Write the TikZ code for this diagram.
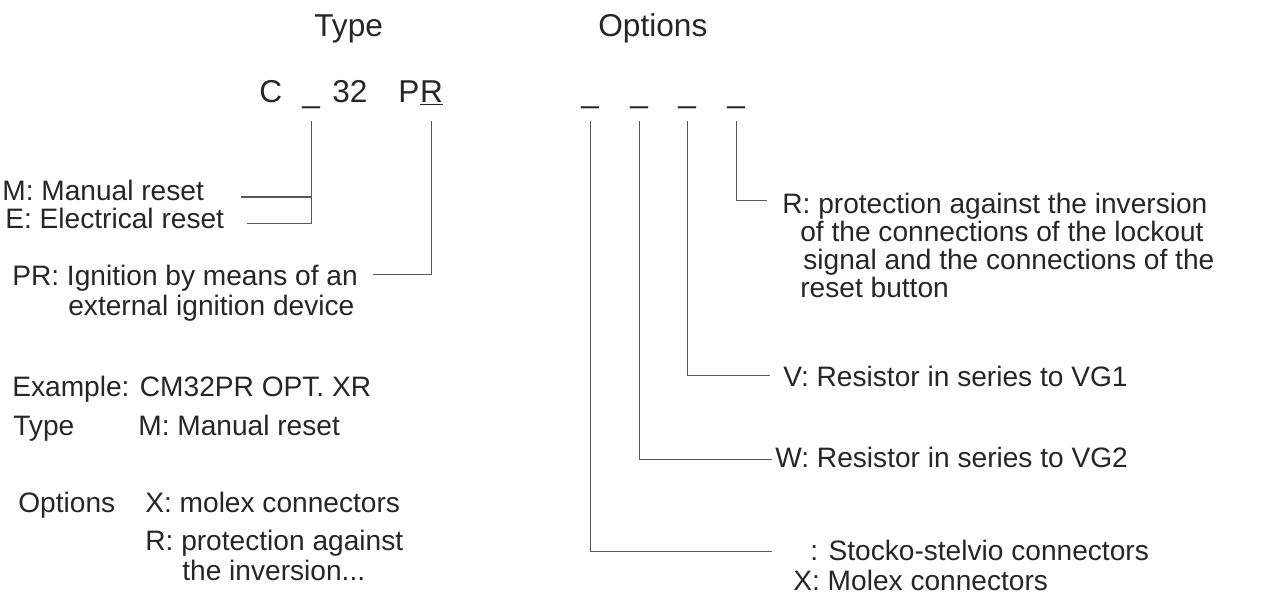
\documentclass[tikz,border=0pt]{standalone}
\usepackage{fontspec}
\setmainfont{Liberation Sans}

\tikzset{
  txt/.style={anchor=base west,inner sep=0pt,text=black!85,
    font=\fontsize{16pt}{19pt}\selectfont},
  hd/.style={txt,font=\fontsize{18pt}{21pt}\selectfont},
  lead/.style={draw=black!65,line width=0.6pt}
}

\begin{document}
\begin{tikzpicture}[x=0.02cm,y=-0.02cm]
\useasboundingbox (0,0) rectangle (1264,602);
% ---------- headings and code ----------
\node[hd] (hType) at (314,36) {Type};
\node[hd] (hOptions) at (598,36) {Options};
\node[hd] (codeC) at (259,102) {C};
\node[hd] (tsel) at (302,102) {\_};
\node[hd] (code32) at (332,102) {32};
\node[hd] (prP) at (398,102) {P};
\node[hd] (prR) at (prP.base east) {\underline{R}};
\node[hd] (opt1) at (581,102) {\_};
\node[hd] (opt2) at (630,102) {\_};
\node[hd] (opt3) at (678,102) {\_};
\node[hd] (opt4) at (727,102) {\_};
% ---------- type descriptions ----------
\node[txt] (mres) at (2,200) {M: Manual reset};
\node[txt] (eres) at (5,228) {E: Electrical reset};
\node[txt] (pr1) at (12,285) {PR: Ignition by means of an};
\node[txt] (pr2) at (68,315) {external ignition device};
% ---------- example ----------
\node[txt] (ex) at (12,396) {Example: CM32PR OPT. XR};
\node[txt] (exType) at (13,435) {Type};
\node[txt] (exM) at (138,435) {M: Manual reset};
\node[txt] (exOpt) at (18,512) {Options};
\node[txt] (exX) at (145,512) {X: molex connectors};
\node[txt] (exR1) at (145,550) {R: protection against};
\node[txt] (exR2) at (182,580) {the inversion...};
% ---------- option descriptions ----------
\node[txt] (rprot1) at (782,213) {R: protection against the inversion};
\node[txt] (rprot2) at (800,241) {of the connections of the lockout};
\node[txt] (rprot3) at (803,269) {signal and the connections of the};
\node[txt] (rprot4) at (800,297) {reset button};
\node[txt] (vres) at (783,386) {V: Resistor in series to VG1};
\node[txt] (wres) at (775,467) {W: Resistor in series to VG2};
\node[txt] (stocko) at (810,560) {: Stocko-stelvio connectors};
\node[txt] (molex) at (793,590) {X: Molex connectors};
% ---------- leaders ----------
\draw[lead] ([yshift=-11pt]tsel.base) |- ([xshift=21pt,yshift=1.7pt]mres.base east);
\draw[lead] ([yshift=-11pt]tsel.base) |- ([xshift=13pt,yshift=2.3pt]eres.base east);
\draw[lead] ([yshift=-11pt]prR.base) |- ([xshift=8.5pt,yshift=6.2pt]pr1.base east);
\draw[lead] ([yshift=-11pt]opt4.base) |- ([xshift=-8.5pt,yshift=7pt]rprot1.base west);
\draw[lead] ([yshift=-11pt]opt3.base) |- ([xshift=-7.4pt,yshift=6pt]vres.base west);
\draw[lead] ([yshift=-11pt]opt2.base) |- ([xshift=-1.7pt,yshift=4.5pt]wres.base west);
\draw[lead] ([yshift=-11pt]opt1.base) |- ([xshift=-21.5pt,yshift=5pt]stocko.base west);
\end{tikzpicture}
\end{document}
